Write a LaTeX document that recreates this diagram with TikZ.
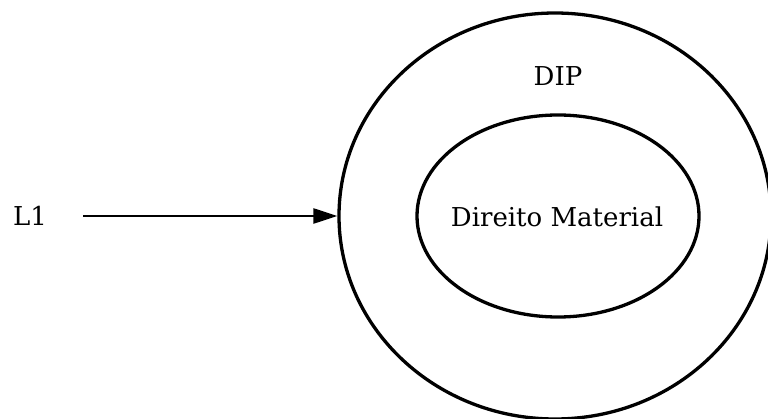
\documentclass[tikz,border=0pt]{standalone}
\usepackage{fontspec}
\setmainfont{DejaVu Serif}
\usetikzlibrary{shapes.geometric,arrows.meta}
\begin{document}
\begin{tikzpicture}[x=1pt,y=-1pt,
  ring/.style={draw=black, line width=3.3pt, ellipse, inner sep=0pt},
  lbl/.style={font=\fontsize{26}{30}\selectfont, inner sep=0pt},
  conn/.style={line width=2.6pt, -{Triangle[length=24pt,width=15pt]}}]
\useasboundingbox (0,0) rectangle (768,419);
\node[ring, minimum width=432pt, minimum height=406pt] (dip) at (555,216) {};
\node[ring, minimum width=282pt, minimum height=202pt] (dm) at (558,216) {};
\node[lbl] (dmtext) at (557,217) {Direito Material};
\node[lbl] (diptext) at (558,76) {DIP};
\node[lbl] (l1) at (30,216) {L1};
\draw[conn, shorten <=36pt] (l1.east) -- (dip.west);
\end{tikzpicture}
\end{document}
